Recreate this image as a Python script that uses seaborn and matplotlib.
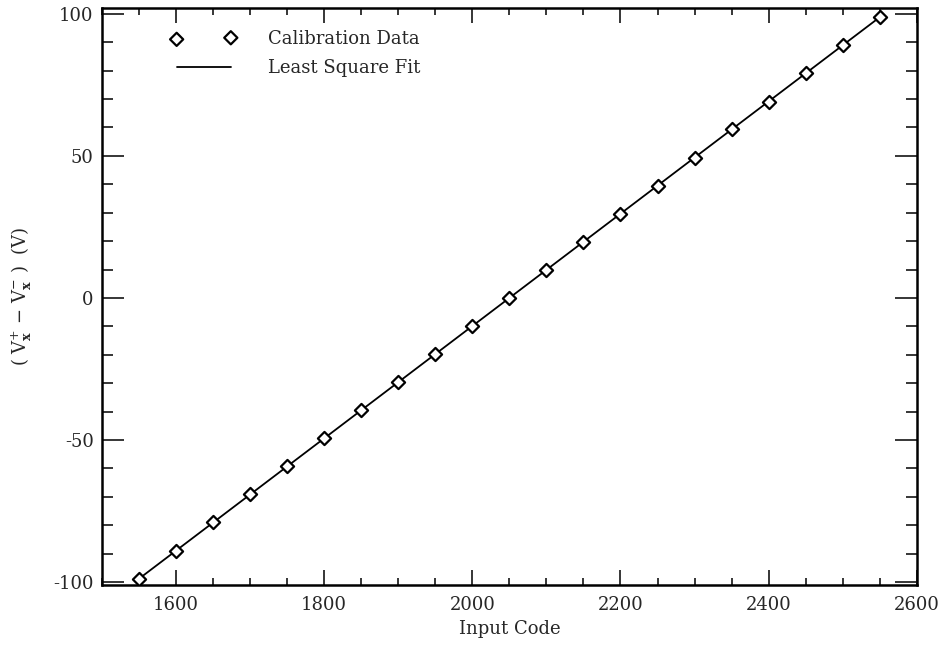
import numpy as np
import pandas as pd
import matplotlib
matplotlib.use("Agg")
import matplotlib.pyplot as plt
import seaborn as sns
from matplotlib.ticker import MultipleLocator

input_code = [1550, 1600, 1650, 1700, 1750, 1800, 1850, 1900, 1950, 2000, 2050,
              2100, 2150, 2200, 2250, 2300, 2350, 2400, 2450, 2500, 2550]
voltage = [-98.8, -88.9, -79.0, -69.1, -59.3, -49.4, -39.5, -29.6, -19.8, -9.9, 0.0,
           9.9, 19.8, 29.6, 39.5, 49.4, 59.3, 69.1, 79.0, 88.9, 98.8]

df = pd.DataFrame({"code": input_code, "v": voltage})
slope, intercept = np.polyfit(df["code"], df["v"], 1)
fit_x = np.array([min(input_code), max(input_code)])
fit_df = pd.DataFrame({"code": fit_x, "v": slope * fit_x + intercept})

sns.set_theme(style="ticks")
plt.rcParams["font.family"] = ["DejaVu Serif"]
plt.rcParams["mathtext.fontset"] = "dejavuserif"
plt.rcParams["axes.unicode_minus"] = False

fig = plt.figure(figsize=(9.49, 6.45), dpi=100)
ax = fig.add_axes([0.1075, 0.093, 0.8585, 0.8945])

sns.lineplot(data=fit_df, x="code", y="v", ax=ax, color="black", linewidth=1.3,
             label="Least Square Fit", legend=False)
sns.scatterplot(data=df, x="code", y="v", ax=ax, marker="D", s=45,
                facecolor="white", edgecolor="black", linewidth=1.6,
                label="Calibration Data", legend=False, zorder=3)

ax.set_xlim(1500, 2600)
ax.set_ylim(-101, 102)
ax.xaxis.set_major_locator(MultipleLocator(200))
ax.xaxis.set_minor_locator(MultipleLocator(50))
ax.yaxis.set_major_locator(MultipleLocator(50))
ax.yaxis.set_minor_locator(MultipleLocator(10))
ax.tick_params(which="both", direction="in", top=True, right=True, labelsize=13, width=1.3)
ax.tick_params(axis="x", which="major", length=11, pad=8)
ax.tick_params(axis="x", which="minor", length=5)
ax.tick_params(axis="y", which="major", length=16, pad=6)
ax.tick_params(axis="y", which="minor", length=8)
for s in ax.spines.values():
    s.set_linewidth(1.8)
    s.set_color("black")

ax.set_xlabel("Input Code", fontsize=13, labelpad=4)
ax.set_ylabel(r"( V$_{\mathbf{x}}^{+}$ $-$ V$_{\mathbf{x}}^{-}$ )  (V)", fontsize=13, labelpad=14)

handles, labels = ax.get_legend_handles_labels()
order = [labels.index("Calibration Data"), labels.index("Least Square Fit")]
ax.legend([handles[i] for i in order], [labels[i] for i in order],
          loc="upper left", bbox_to_anchor=(0.065, 0.99), frameon=False,
          numpoints=2, scatterpoints=2, handlelength=3.6, fontsize=13,
          handletextpad=1.75, labelspacing=0.63)

fig.savefig("out.png", dpi=100)
